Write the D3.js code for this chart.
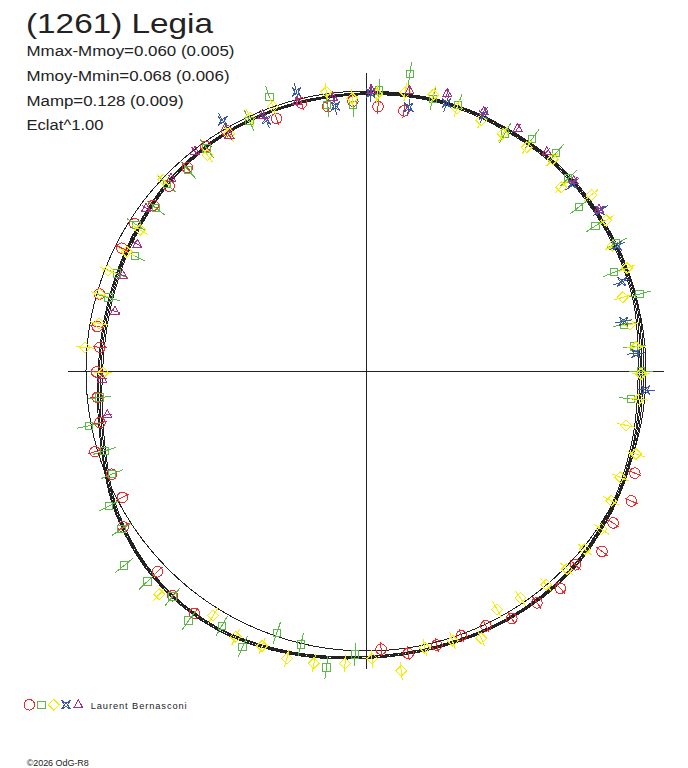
<!DOCTYPE html>
<html>
<head>
<meta charset="utf-8">
<script src="https://cdn.jsdelivr.net/npm/d3@7"></script>
<style>
  body { margin: 0; background: #fff; }
  svg { display: block; }
  text { font-family: "Liberation Sans", Arial, sans-serif; fill: #222; }
</style>
</head>
<body>
<div id="chart"></div>
<script>
// rotational phase (deg, clockwise from top) of the model samples
const modelPhase = [0, 15, 30, 45, 60, 75, 90, 105, 120, 135, 150, 165,
                    180, 195, 210, 225, 240, 255, 270, 285, 300, 315, 330, 345];

// relative flux of the fitted models (4 solutions)
const modelA = [0.987, 0.993, 0.992, 0.996, 0.992, 0.987, 0.972, 0.983, 1.001, 1.016, 1.017, 1.014,
                1.019, 1.038, 1.058, 1.052, 1.019, 0.967, 0.941, 0.940, 0.953, 0.972, 0.982, 0.984];
const modelB = [0.990, 0.997, 0.996, 1.000, 0.996, 0.992, 0.979, 0.989, 1.005, 1.019, 1.020, 1.016,
                1.021, 1.041, 1.061, 1.055, 1.023, 0.972, 0.947, 0.945, 0.957, 0.975, 0.985, 0.987];
const modelC = [0.992, 1.000, 1.000, 1.004, 1.000, 0.997, 0.985, 0.993, 1.009, 1.023, 1.023, 1.020,
                1.025, 1.045, 1.065, 1.059, 1.027, 0.978, 0.953, 0.950, 0.961, 0.979, 0.988, 0.989];
const modelD = [0.994, 1.003, 1.003, 1.008, 1.004, 1.001, 0.991, 0.998, 1.012, 1.026, 1.025, 1.022,
                1.027, 1.047, 1.067, 1.061, 1.030, 0.982, 0.957, 0.954, 0.964, 0.982, 0.990, 0.991];

const meanLevel = 1.0;
const axisExtent = 1.064;

// observations: [phase deg, relative flux]
const obsRed = [[340.5,0.957],[346.5,0.984],[351.8,0.954],[357.2,0.965],[2.6,0.945],[8.3,0.939],
  [329.9,0.991],[324.5,0.985],[318.7,0.967],[313.2,0.965],[307.9,0.963],[302.5,0.979],[296.7,0.976],
  [286.1,0.991],[279.4,0.973],[275.1,0.954],[269.8,0.962],[264.4,0.964],[259.0,0.968],[253.4,1.010],
  [247.9,0.980],[242.6,0.980],[237.3,1.031],[226.1,1.034],[220.7,1.059],[215.3,1.061],[176.9,0.995],
  [171.5,1.020],[165.5,1.011],[160.2,1.005],[154.8,1.006],[149.5,1.026],[143.6,1.029],[138.2,1.041],
  [132.8,1.019],[127.4,1.061],[121.6,1.036],[116.1,1.055],[110.8,1.027]];

const obsGreen = [[340.6,1.038],[335.0,0.986],[351.7,0.960],[357.2,0.951],[2.7,1.003],[8.4,1.072],
  [13.8,1.000],[19.1,1.005],[30.3,0.983],[35.6,1.018],[41.1,1.032],[46.4,0.997],[52.4,0.961],
  [57.7,0.970],[63.0,1.003],[68.3,0.954],[74.3,1.015],[79.8,0.937],[84.8,0.962],[90.1,0.982],
  [96.0,0.952],[264.3,0.957],[258.8,1.009],[253.0,0.976],[247.9,0.980],[242.3,1.037],[237.1,1.040],
  [231.2,1.109],[226.1,1.084],[220.6,1.061],[215.4,1.094],[209.5,1.046],[204.1,1.079],[198.8,0.989],
  [193.4,1.005],[187.6,1.069],[182.2,1.014],[285.9,0.957],[291.4,0.956],[296.5,0.922],[302.5,0.971],
  [307.8,0.949],[313.2,0.976],[318.5,0.958],[324.4,0.978]];

const obsYellow = [[335.4,0.996],[340.6,1.001],[351.9,1.007],[357.1,0.975],[2.3,0.990],[8.0,1.005],
  [13.7,1.016],[19.1,0.993],[24.7,0.986],[30.0,0.978],[35.7,0.984],[41.4,1.008],[46.7,0.957],
  [52.0,1.021],[57.9,1.013],[63.1,0.988],[68.5,1.002],[74.0,0.954],[80.0,0.958],[84.9,0.968],
  [90.6,0.982],[95.9,0.979],[101.8,0.949],[107.1,1.009],[112.7,0.984],[117.9,0.991],[123.9,1.013],
  [129.2,1.008],[134.6,1.008],[139.9,0.999],[145.8,0.981],[151.2,0.971],[156.7,1.039],[162.2,1.012],
  [168.0,1.010],[173.3,1.078],[178.8,1.028],[184.1,1.047],[190.1,1.060],[195.4,1.065],[200.7,1.050],
  [206.1,1.057],[212.0,1.030],[222.8,1.087],[269.6,0.939],[274.8,1.007],[280.1,0.968],[286.1,0.991],
  [291.3,0.988],[296.5,0.955],[302.0,0.951],[313.3,0.995],[323.7,0.957],[330.0,0.978]];

const obsBlue = [[338.3,0.965],[346.0,1.027],[353.4,0.952],[1.0,0.993],[9.2,0.954],[16.7,0.999],
  [24.7,1.006],[47.8,0.994],[55.6,1.014],[63.5,1.002],[70.8,0.968],[79.1,0.937],[86.3,0.966],
  [93.9,1.001],[330.2,1.030]];

const obsPurple = [[338.0,0.986],[345.6,0.993],[353.1,0.986],[1.1,1.004],[8.8,1.013],[16.3,1.033],
  [24.4,1.017],[32.0,1.022],[39.5,1.015],[47.5,1.006],[55.2,1.013],[329.9,0.974],[322.1,0.995],
  [314.7,0.979],[306.5,0.977],[299.0,0.934],[291.5,0.934],[283.4,0.922],[268.3,0.943],[260.4,0.937]];

// typical error of each session (relative flux)
const sessionErr = [0.025, 0.042, 0.032, 0.032, 0.018];

const statLines = ["Mmax-Mmoy=0.060 (0.005)", "Mmoy-Mmin=0.068 (0.006)", "Mamp=0.128 (0.009)", "Eclat^1.00"];

const shapes = {
    circle: d3.symbol(d3.symbolCircle, 88)(),
    square: d3.symbol(d3.symbolSquare, 56)(),
    diamond: "M0,-5.5L5.5,0L0,5.5L-5.5,0Z",
    star: "M-4.5,-4.5L0,-1.5L4.5,-4.5L1.5,0L4.5,4.5L0,1.5L-4.5,4.5L-1.5,0Z",
    triangle: "M0,-5L4.6,3.2L-4.6,3.2Z"
};

const series = [
    { data: obsRed, color: "#ee2a2a", shape: "circle", err: sessionErr[0] },
    { data: obsGreen, color: "#5cb848", shape: "square", err: sessionErr[1] },
    { data: obsYellow, color: "#f2ee00", shape: "diamond", err: sessionErr[2] },
    { data: obsBlue, color: "#3a56a8", shape: "star", err: sessionErr[3] },
    { data: obsPurple, color: "#a8307e", shape: "triangle", err: sessionErr[4] }
];

const W = 688, H = 768;
const center = { x: 366, y: 371 };

const svg = d3.select("#chart").append("svg")
    .attr("width", W)
    .attr("height", H);

const angle = d3.scaleLinear().domain([0, 360]).range([0, 2 * Math.PI]);
const radius = d3.scaleLinear().domain([0, 1]).range([0, 280]);

const g = svg.append("g")
    .attr("transform", `translate(${center.x},${center.y})`)
    .attr("shape-rendering", "crispEdges");

// Axes
g.append("line")
    .attr("x1", -radius(axisExtent)).attr("x2", radius(axisExtent))
    .attr("y1", 0).attr("y2", 0)
    .attr("stroke", "#222");
g.append("line")
    .attr("y1", -radius(axisExtent)).attr("y2", radius(axisExtent))
    .attr("x1", 0).attr("x2", 0)
    .attr("stroke", "#222");

// Mean level circle
g.append("circle")
    .attr("r", radius(meanLevel))
    .attr("fill", "none")
    .attr("stroke", "#222");

// Model curves
const model = d3.lineRadial()
    .angle((d, i) => angle(modelPhase[i]))
    .radius(d => radius(d))
    .curve(d3.curveCardinalClosed);

[modelA, modelB, modelC, modelD].forEach(m => {
    g.append("path")
        .attr("d", model(m))
        .attr("fill", "none")
        .attr("stroke", "#222");
});

// Observations with radial error bars
series.forEach(s => {
    const pts = g.append("g");
    s.data.forEach(([ph, fl]) => {
        const a = angle(ph);
        const p0 = d3.pointRadial(a, radius(fl - s.err));
        const p1 = d3.pointRadial(a, radius(fl + s.err));
        const p = d3.pointRadial(a, radius(fl));
        pts.append("line")
            .attr("x1", p0[0]).attr("y1", p0[1])
            .attr("x2", p1[0]).attr("y2", p1[1])
            .attr("stroke", s.color);
        pts.append("path")
            .attr("d", shapes[s.shape])
            .attr("transform", `translate(${p[0]},${p[1]})`)
            .attr("fill", "none")
            .attr("stroke", s.color);
    });
});

// Title and statistics
svg.append("text")
    .attr("x", 26).attr("y", 32.5)
    .attr("textLength", 187)
    .attr("lengthAdjust", "spacingAndGlyphs")
    .style("font-size", "28px")
    .text("(1261) Legia");

const statWidth = [208, 203, 157, 77];
statLines.forEach((t, i) => {
    svg.append("text")
        .attr("x", 26.5).attr("y", 55.7 + i * 24.9)
        .attr("textLength", statWidth[i])
        .attr("lengthAdjust", "spacingAndGlyphs")
        .style("font-size", "14px")
        .text(t);
});

// Legend
const legend = svg.append("g")
    .attr("transform", "translate(29.3,704.8)")
    .attr("shape-rendering", "crispEdges");
series.forEach((s, i) => {
    legend.append("path")
        .attr("d", shapes[s.shape])
        .attr("transform", `translate(${i * 12.25},0)`)
        .attr("fill", "none")
        .attr("stroke", s.color);
});
svg.append("text")
    .attr("x", 90.7).attr("y", 709)
    .attr("textLength", 96)
    .attr("lengthAdjust", "spacing")
    .style("font-size", "9.3px")
    .text("Laurent Bernasconi");

svg.append("text")
    .attr("x", 26.7).attr("y", 766)
    .attr("textLength", 62)
    .attr("lengthAdjust", "spacing")
    .style("font-size", "9px")
    .text("©2026 OdG-R8");
</script>
</body>
</html>
